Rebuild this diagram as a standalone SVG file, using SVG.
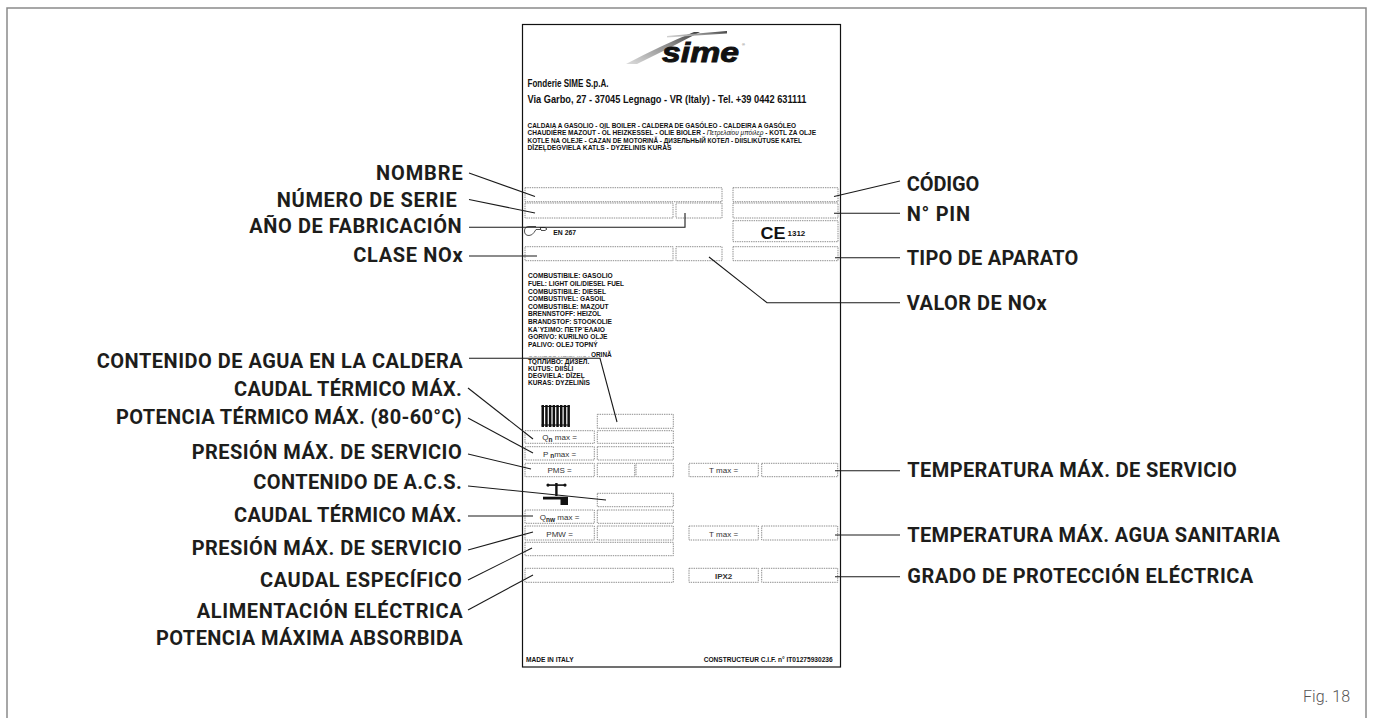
<svg xmlns="http://www.w3.org/2000/svg" width="1373" height="718" viewBox="0 0 1373 718">
<style>
.lbl{font-family:Roboto,"Liberation Sans",sans-serif;font-weight:700;font-size:20px;fill:#1d1d1b}
.fld{fill:none;stroke:#707070;stroke-width:0.8;stroke-dasharray:1.4 0.9}
.pt{font-family:"Liberation Sans",Arial,sans-serif;fill:#111}
.tiny{font-family:"Liberation Sans",Arial,sans-serif;font-weight:700;font-size:6.6px;fill:#111}
.ft{font-family:"Liberation Sans",Arial,sans-serif;font-size:8px;fill:#333;text-anchor:middle}
.sub{font-size:6.5px;font-weight:700;fill:#222}
.ld{fill:none;stroke:#1a1a1a;stroke-width:1.1}
</style>
<defs>
<linearGradient id="sw" x1="0" y1="1" x2="1" y2="0">
<stop offset="0" stop-color="#dcdcdc"/>
<stop offset="0.6" stop-color="#8a8a8a"/>
<stop offset="1" stop-color="#3a3a3a"/>
</linearGradient>
</defs>
<rect width="1373" height="718" fill="#fff"/>
<path d="M7,718 V8 H1366 V718" fill="none" stroke="#8a8a8a" stroke-width="1.5"/>

<g id="plate">
<rect x="522.5" y="24.5" width="318" height="642.5" fill="#fff" stroke="#111" stroke-width="1.2"/>
<g id="logo">
<path d="M626,64 Q660,46 694,32 L700,32 Q668,49 637,64 Z" fill="url(#sw)"/>
<path d="M667,36 L727,31 L727,33.6 L667,37.6 Z" fill="url(#sw)"/>
<text x="662" y="62" font-family="'Liberation Sans',Arial,sans-serif" font-weight="700" font-style="italic" font-size="28" textLength="77" lengthAdjust="spacingAndGlyphs" fill="#111" stroke="#111" stroke-width="0.9">sime</text>
<text x="742" y="46" font-family="'Liberation Sans',Arial,sans-serif" font-size="4" fill="#555">®</text>
</g>
<text class="pt" x="527.5" y="86.5" font-size="10" font-weight="700" textLength="81" lengthAdjust="spacingAndGlyphs">Fonderie SIME S.p.A.</text>
<text class="pt" x="527.5" y="102.5" font-size="10" font-weight="700" textLength="279" lengthAdjust="spacingAndGlyphs">Via Garbo, 27 - 37045 Legnago - VR (Italy) -  Tel. +39 0442 631111</text>
<text class="tiny" x="527.5" y="127.5" textLength="268.5" lengthAdjust="spacingAndGlyphs">CALDAIA A GASOLIO - OIL BOILER - CALDERA DE GASÓLEO - CALDEIRA A GASÓLEO</text>
<text class="tiny" x="527.5" y="135" textLength="288.5" lengthAdjust="spacingAndGlyphs">CHAUDIÈRE MAZOUT - ÖL HEIZKESSEL - OLIE BIOLER - <tspan font-style="italic" font-weight="400">Πετρελαίου μπόιλερ</tspan> - KOTL ZA OLJE</text>
<text class="tiny" x="527.5" y="142.5" textLength="274.5" lengthAdjust="spacingAndGlyphs">KOTLE NA OLEJE - CAZAN DE MOTORINĂ - ДИЗЕЛЬНЫЙ КОТЕЛ - DIISLIKÜTUSE KATEL</text>
<text class="tiny" x="527.5" y="150" textLength="144" lengthAdjust="spacingAndGlyphs">DĪZEĻDEGVIELA KATLS - DYZELINIS KURAS</text>

<g id="fields">
<rect class="fld" x="525" y="187.7" width="197" height="14"/>
<rect class="fld" x="733" y="187.7" width="105" height="14"/>
<rect class="fld" x="525" y="203" width="148" height="15"/>
<rect class="fld" x="676" y="203" width="46" height="15"/>
<rect class="fld" x="733" y="203" width="105" height="15"/>
<rect class="fld" x="733" y="220.7" width="105" height="21"/>
<rect class="fld" x="525" y="246.7" width="148" height="14"/>
<rect class="fld" x="676" y="246.7" width="46" height="14"/>
<rect class="fld" x="733" y="246.7" width="105" height="14"/>
<rect class="fld" x="597.3" y="414.3" width="76" height="14"/>
<rect class="fld" x="525" y="430.7" width="69.3" height="12.6"/>
<rect class="fld" x="597.3" y="430.7" width="76" height="12.6"/>
<rect class="fld" x="525" y="446.7" width="69.3" height="13.3"/>
<rect class="fld" x="597.3" y="446.7" width="76" height="13.3"/>
<rect class="fld" x="525" y="463.3" width="69.3" height="13.4"/>
<rect class="fld" x="597.3" y="463.3" width="37.4" height="13.4"/>
<rect class="fld" x="636" y="463.3" width="37.3" height="13.4"/>
<rect class="fld" x="689" y="463.3" width="69.3" height="13.4"/>
<rect class="fld" x="761.7" y="463.3" width="76" height="13.4"/>
<rect class="fld" x="597.3" y="493.3" width="76" height="13.4"/>
<rect class="fld" x="525" y="510" width="69.3" height="13.3"/>
<rect class="fld" x="597.3" y="510" width="76" height="13.3"/>
<rect class="fld" x="525" y="526" width="69.3" height="14"/>
<rect class="fld" x="597.3" y="526" width="76" height="14"/>
<rect class="fld" x="689" y="526" width="69.3" height="14"/>
<rect class="fld" x="761.7" y="526" width="76" height="14"/>
<rect class="fld" x="525" y="542.3" width="148.3" height="13.4"/>
<rect class="fld" x="525" y="568.3" width="148.3" height="14"/>
<rect class="fld" x="689" y="568.3" width="69.3" height="14"/>
<rect class="fld" x="761.7" y="568.3" width="76" height="14"/>
</g>

<g id="en267">
<path d="M536,226.5 H529 Q524.5,226.5 524.5,231 Q524.5,235.5 529,235.5 Q532,235.5 534,232.5 L536,229.5 H541 L540,227.5 H545 L547,229 L545,230.5 H541" fill="none" stroke="#222" stroke-width="0.8"/>
<text class="pt" x="553.3" y="235" font-size="6.8" font-weight="700">EN 267</text>
</g>
<g id="ce">
<text class="pt" x="760.5" y="238.5" font-family="'DejaVu Sans',sans-serif" font-size="17" font-weight="700" textLength="25" lengthAdjust="spacingAndGlyphs">CE</text>
<text class="pt" x="787.5" y="235.5" font-size="8" font-weight="700">1312</text>
</g>

<g id="fuel" class="tiny">
<text x="528" y="278.3">COMBUSTIBILE: GASOLIO</text>
<text x="528" y="285.9" textLength="96" lengthAdjust="spacingAndGlyphs">FUEL: LIGHT OIL/DIESEL FUEL</text>
<text x="528" y="293.5">COMBUSTIBILE: DIESEL</text>
<text x="528" y="301.1">COMBUSTIVEL: GASOIL</text>
<text x="528" y="308.7">COMBUSTIBLE: MAZOUT</text>
<text x="528" y="316.3">BRENNSTOFF: HEIZÖL</text>
<text x="528" y="323.9">BRANDSTOF: STOOKOLIE</text>
<text x="528" y="331.5">ΚΑ΄ΥΣΙΜΟ: ΠΕΤΡ΄ΕΛΑΙΟ</text>
<text x="528" y="339.1">GORIVO: KURILNO OLJE</text>
<text x="528" y="346.7">PALIVO: OLEJ TOPNÝ</text>
<text x="528" y="357.3" textLength="83.7" lengthAdjust="spacingAndGlyphs">COMBUSTIBIL: MOTORINĂ</text>
<rect x="523.6" y="349" width="67.6" height="7.6" fill="#fff"/>
<text x="528" y="364">ТОПЛИВО: ДИЗЕЛ.</text>
<text x="528" y="371.2">KÜTUS: DIISLI</text>
<text x="528" y="378.3">DEGVIELA: DĪZEĻ</text>
<text x="528" y="385.4">KURAS: DYZELINIS</text>
</g>

<g id="radiator" fill="#111">
<rect x="541.5" y="405" width="2.5" height="22"/>
<rect x="545.2" y="405" width="2.5" height="22"/>
<rect x="548.9" y="405" width="2.5" height="22"/>
<rect x="552.6" y="405" width="2.5" height="22"/>
<rect x="556.3" y="405" width="2.5" height="22"/>
<rect x="560" y="405" width="2.5" height="22"/>
<rect x="563.7" y="405" width="2.5" height="22"/>
<rect x="567.4" y="405" width="2.5" height="22"/>
<rect x="541.5" y="406" width="28.4" height="1"/>
<rect x="541.5" y="424.5" width="28.4" height="1"/>
</g>
<g id="tap" fill="#111">
<rect x="547.5" y="484.3" width="18" height="1.6"/>
<circle cx="548" cy="485.1" r="1.6"/>
<circle cx="565" cy="485.1" r="1.6"/>
<rect x="555.2" y="483" width="2.4" height="13"/>
<rect x="543" y="496.7" width="25" height="2.8"/>
<rect x="560.5" y="498" width="7.5" height="7"/>
</g>

<g id="fieldtext">
<text class="ft" x="559.6" y="440">Q<tspan class="sub" dy="1.5">n</tspan><tspan dy="-1.5"> max =</tspan></text>
<text class="ft" x="559.6" y="456.5">P<tspan class="sub" dy="1"> n</tspan><tspan dy="-1">max =</tspan></text>
<text class="ft" x="559.6" y="473">PMS =</text>
<text class="ft" x="723.6" y="473">T max =</text>
<text class="ft" x="559.6" y="520">Q<tspan class="sub" dy="1.5">nw</tspan><tspan dy="-1.5"> max =</tspan></text>
<text class="ft" x="559.6" y="536.5">PMW =</text>
<text class="ft" x="723.6" y="536.5">T max =</text>
<text class="ft" x="723.6" y="579" font-weight="700" font-size="8.5" fill="#111">IPX2</text>
</g>
<text class="tiny" x="526" y="661.5">MADE IN ITALY</text>
<text class="tiny" x="832.7" y="661.5" text-anchor="end">CONSTRUCTEUR C.I.F. n° IT01275930236</text>
</g>

<g id="connectors">
<polyline class="ld" points="469,173 535,196.5"/>
<polyline class="ld" points="469,199.5 535,213"/>
<polyline class="ld" points="469,227.3 685,227.3 685,213"/>
<polyline class="ld" points="469,256 537,256"/>
<polyline class="ld" points="469,358.3 600,358.3 617,422"/>
<polyline class="ld" points="468,388 533,439"/>
<polyline class="ld" points="468,418 533,453"/>
<polyline class="ld" points="468,454 531,469"/>
<polyline class="ld" points="468,486 606,500"/>
<polyline class="ld" points="468,516 533,516"/>
<polyline class="ld" points="468,550 533,532"/>
<polyline class="ld" points="468,580 532,548"/>
<polyline class="ld" points="468,610 533,575"/>
<polyline class="ld" points="900,181 834,196.5"/>
<polyline class="ld" points="900,213.3 834,213.3"/>
<polyline class="ld" points="900,257.7 835,257.7"/>
<polyline class="ld" points="709,257 767,302.7 900,302.7"/>
<polyline class="ld" points="900,470.7 835,470.7"/>
<polyline class="ld" points="900,535 835,535"/>
<polyline class="ld" points="900,576.7 835,576.7"/>
</g>

<g id="labels-left" text-anchor="end">
<text id="l-nombre" class="lbl" x="462.7" y="180" textLength="86.7">NOMBRE</text>
<text id="l-serie" class="lbl" x="456.7" y="206.7" textLength="180">NÚMERO DE SERIE</text>
<text id="l-ano" class="lbl" x="461.7" y="232.5" textLength="212.4">AÑO DE FABRICACIÓN</text>
<text id="l-clase" class="lbl" x="462.7" y="262.3" textLength="109.4">CLASE NOx</text>
<text id="l-agua" class="lbl" x="462.7" y="367.5" textLength="366">CONTENIDO DE AGUA EN LA CALDERA</text>
<text id="l-caudal1" class="lbl" x="461.7" y="395.5" textLength="227.7">CAUDAL TÉRMICO MÁX.</text>
<text id="l-potencia" class="lbl" x="461.7" y="424" textLength="345.7">POTENCIA TÉRMICO MÁX. (80-60°C)</text>
<text id="l-presion1" class="lbl" x="461.7" y="458.5" textLength="270">PRESIÓN MÁX. DE SERVICIO</text>
<text id="l-acs" class="lbl" x="461.7" y="489" textLength="208.4">CONTENIDO DE A.C.S.</text>
<text id="l-caudal2" class="lbl" x="461.7" y="522" textLength="227.7">CAUDAL TÉRMICO MÁX.</text>
<text id="l-presion2" class="lbl" x="461.7" y="555" textLength="270">PRESIÓN MÁX. DE SERVICIO</text>
<text id="l-especifico" class="lbl" x="461.7" y="587.3" textLength="201.7">CAUDAL ESPECÍFICO</text>
<text id="l-alim" class="lbl" x="462.7" y="618.3" textLength="266">ALIMENTACIÓN ELÉCTRICA</text>
<text id="l-potmax" class="lbl" x="462.7" y="645" textLength="306.7">POTENCIA MÁXIMA ABSORBIDA</text>
</g>

<g id="labels-right">
<text id="r-codigo" class="lbl" x="906.7" y="191" textLength="72.7">CÓDIGO</text>
<text id="r-pin" class="lbl" x="906.7" y="220.7" textLength="63.3">N° PIN</text>
<text id="r-tipo" class="lbl" x="906.7" y="265" textLength="171.7">TIPO DE APARATO</text>
<text id="r-valor" class="lbl" x="906.7" y="310" textLength="140">VALOR DE NOx</text>
<text id="r-temp" class="lbl" x="907.3" y="477.3" textLength="329.4">TEMPERATURA MÁX. DE SERVICIO</text>
<text id="r-tempagua" class="lbl" x="907.3" y="541.7" textLength="372.7">TEMPERATURA MÁX. AGUA SANITARIA</text>
<text id="r-grado" class="lbl" x="907.3" y="583.3" textLength="346">GRADO DE PROTECCIÓN ELÉCTRICA</text>
</g>

<text id="fig" x="1350" y="701.5" text-anchor="end" font-family="Roboto,'Liberation Sans',sans-serif" font-weight="300" font-size="16" fill="#555">Fig. 18</text>
</svg>
